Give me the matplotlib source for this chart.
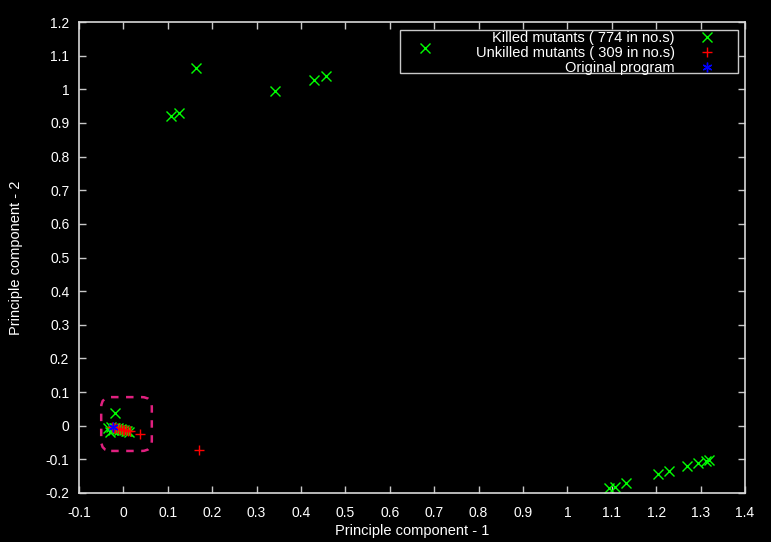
import matplotlib
matplotlib.use("Agg")
import matplotlib.pyplot as plt
from matplotlib.patches import FancyBboxPatch, Rectangle

plt.rcParams['font.family'] = ['Liberation Sans', 'DejaVu Sans']

# Killed mutants (green x)
killed_x = [0.107, 0.126, 0.163, 0.341, 0.430, 0.457, 0.680,
            1.094, 1.107, 1.132, 1.205, 1.229, 1.270, 1.295, 1.312, 1.320,
            -0.019, -0.034, -0.030, -0.027, -0.024, -0.021, -0.018, -0.015,
            -0.012, -0.009, -0.006, -0.003, 0.001, 0.005, 0.009, 0.013]
killed_y = [0.921, 0.929, 1.062, 0.996, 1.029, 1.040, 1.123,
            -0.186, -0.181, -0.171, -0.144, -0.136, -0.120, -0.110, -0.104, -0.101,
            0.037, -0.007, -0.018, -0.005, -0.012, -0.008, -0.006, -0.010,
            -0.008, -0.012, -0.010, -0.014, -0.012, -0.016, -0.015, -0.018]

# Unkilled mutants (red +)
unkilled_x = [0.170, 0.037, -0.026, -0.022, -0.018, -0.014, -0.010, -0.006,
              -0.002, 0.002, 0.006, 0.010, 0.014]
unkilled_y = [-0.073, -0.026, -0.004, -0.006, -0.007, -0.008, -0.010, -0.011,
              -0.012, -0.013, -0.014, -0.015, -0.016]

# Original program (blue star)
orig_x = [-0.023]
orig_y = [-0.005]

labels = ["Killed mutants ( 774 in no.s)", "Unkilled mutants ( 309 in no.s)", "Original program"]

xticks = [-0.1, 0, 0.1, 0.2, 0.3, 0.4, 0.5, 0.6, 0.7, 0.8, 0.9, 1, 1.1, 1.2, 1.3, 1.4]
xticklabels = ["-0.1", "0", "0.1", "0.2", "0.3", "0.4", "0.5", "0.6", "0.7", "0.8",
               "0.9", "1", "1.1", "1.2", "1.3", "1.4"]
yticks = [-0.2, -0.1, 0, 0.1, 0.2, 0.3, 0.4, 0.5, 0.6, 0.7, 0.8, 0.9, 1, 1.1, 1.2]
yticklabels = ["-0.2", "-0.1", "0", "0.1", "0.2", "0.3", "0.4", "0.5", "0.6", "0.7",
               "0.8", "0.9", "1", "1.1", "1.2"]

fig = plt.figure(figsize=(7.71, 5.42), dpi=100, facecolor='black')
ax = fig.add_axes([79/771, 1-493/542, 666/771, 471/542], facecolor='black')

ax.plot(killed_x, killed_y, linestyle='none', marker='x', color='#00ff00',
        markersize=6.5, markeredgewidth=1.0, label=labels[0])
ax.plot(unkilled_x, unkilled_y, linestyle='none', marker='+', color='#ff0000',
        markersize=7, markeredgewidth=1.0, label=labels[1])
ax.plot(orig_x, orig_y, linestyle='none', marker=(6, 2, 0), color='#0000ff',
        markersize=7, markeredgewidth=1.0, label=labels[2])

ax.set_xlim(-0.1, 1.4)
ax.set_ylim(-0.2, 1.2)
ax.set_xticks(xticks)
ax.set_xticklabels(xticklabels)
ax.set_yticks(yticks)
ax.set_yticklabels(yticklabels)
ax.tick_params(direction='in', colors='#c8c8c8', labelcolor='white', labelsize=10,
               length=5, width=1, top=True, right=True)
ax.tick_params(axis='x', pad=9.5)
ax.tick_params(axis='y', pad=7)
for s in ax.spines.values():
    s.set_color('#d8d8d8')
    s.set_linewidth(1.2)

ax.set_xlabel("Principle component - 1", color='white', fontsize=10.5, labelpad=3)
ax.set_ylabel("Principle component - 2", color='white', fontsize=10.5, labelpad=16)

# highlight box around the cluster near the origin
box = FancyBboxPatch((-0.050, -0.075), 0.114, 0.160,
                     boxstyle="round,pad=0,rounding_size=0.0225",
                     fill=False, edgecolor='#e0207f', linewidth=1.8,
                     linestyle=(0, (3, 3)), mutation_aspect=1.33)
ax.add_patch(box)

# legend frame (transparent, data shows through as in the original)
ax.add_patch(Rectangle((0.482, 0.892), 0.5075, 0.091, transform=ax.transAxes,
                       fill=False, edgecolor='#c8c8c8', linewidth=1.0, zorder=4))
leg = ax.legend(loc='upper right', bbox_to_anchor=(0.958, 0.981),
                markerfirst=False, frameon=False, fontsize=10.5,
                labelspacing=0.08, borderpad=0, handlelength=1.4,
                handletextpad=1.5, borderaxespad=0)
leg.set_zorder(5)
for t in leg.get_texts():
    t.set_color('white')

fig.savefig('out.png', dpi=100, facecolor='black')
